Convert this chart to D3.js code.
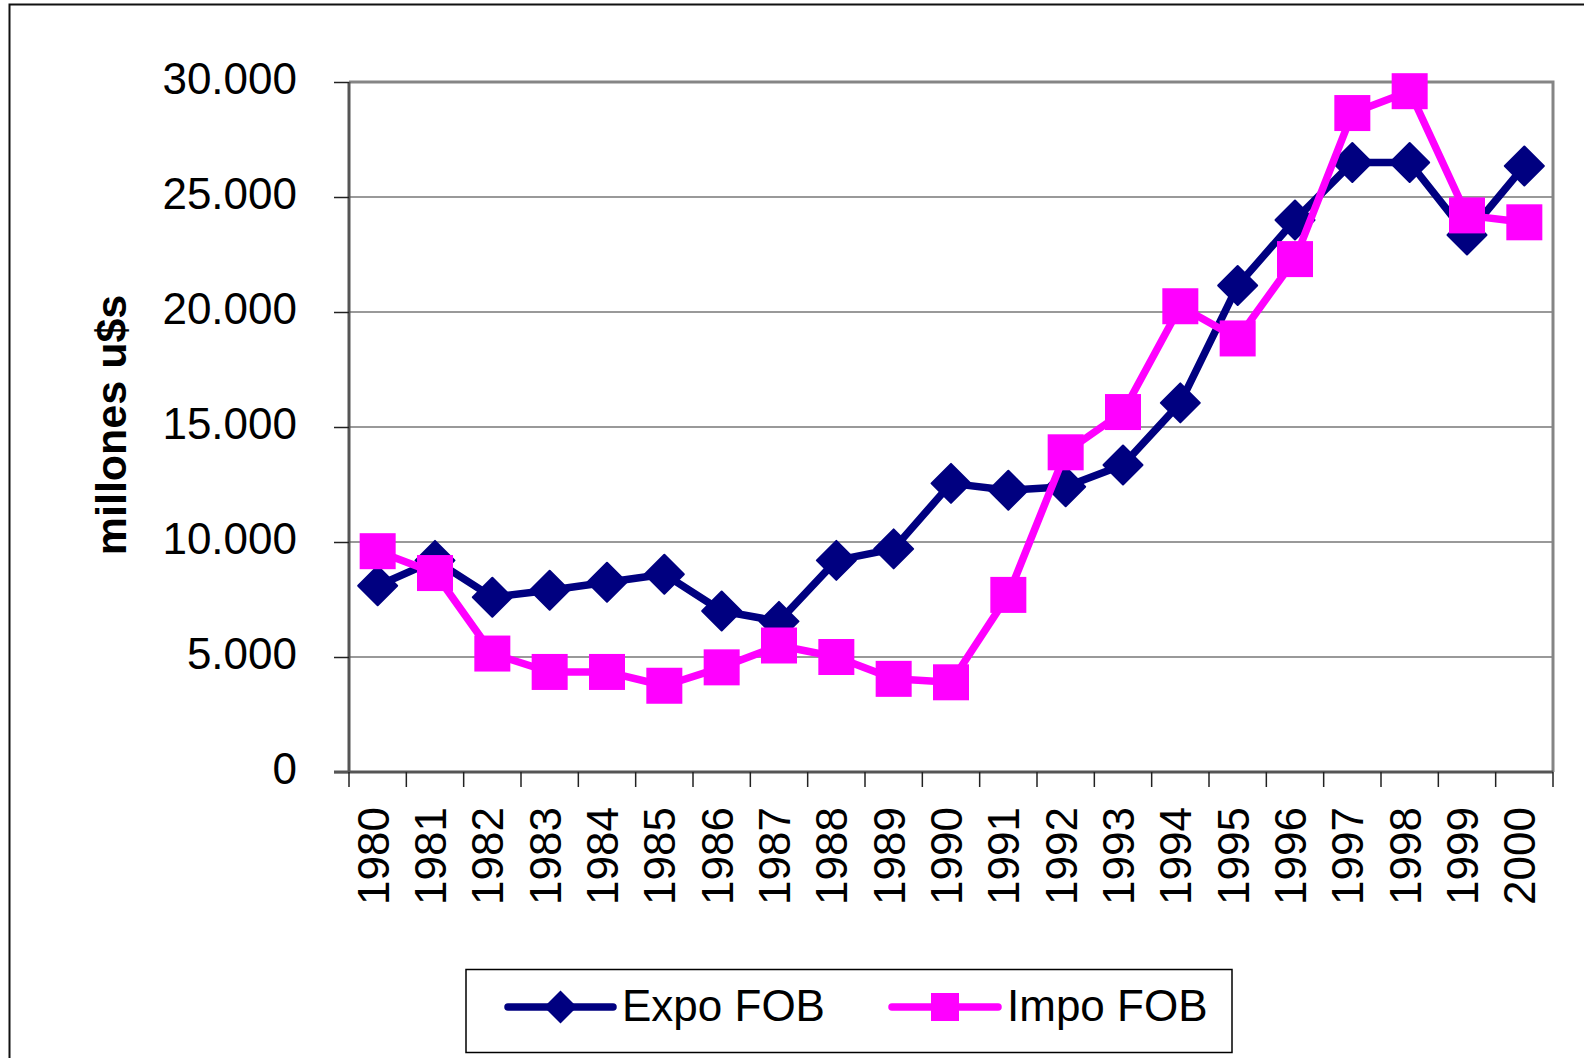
<!DOCTYPE html>
<html>
<head>
<meta charset="utf-8">
<script src="https://cdn.jsdelivr.net/npm/d3@7"></script>
<style>
	html, body { margin: 0; padding: 0; background: #fff; overflow: hidden; }
	svg { display: block; font-family: "Liberation Sans", Arial, sans-serif; }
</style>
</head>
<body>
<div id="wrapper"></div>
<script>
// years on the category axis
const years = ['1980', '1981', '1982', '1983', '1984', '1985', '1986', '1987', '1988', '1989', '1990',
	'1991', '1992', '1993', '1994', '1995', '1996', '1997', '1998', '1999', '2000'];
// millones u$s
const expoFob = [8100, 9200, 7600, 7900, 8250, 8600, 7000, 6550, 9200, 9700, 12550,
	12250, 12400, 13350, 16050, 21150, 24000, 26500, 26500, 23350, 26350];
const impoFob = [9600, 8650, 5150, 4350, 4350, 3750, 4550, 5500, 5000, 4050, 3900,
	7700, 13900, 15650, 20250, 18850, 22300, 28650, 29600, 24200, 23900];
const yTicks = [0, 5000, 10000, 15000, 20000, 25000, 30000];
const seriesNames = ['Expo FOB', 'Impo FOB'];

(() => {
	const width = 1584, height = 1058;
	const plot = { left: 349, right: 1553, top: 82, bottom: 772 };
	const colors = { expo: '#000080', impo: '#ff00ff' };
	const fontSize = 44;

	const fmt = d3.formatLocale({ decimal: ',', thousands: '.', grouping: [3], currency: ['$', ''] }).format(',d');

	const svg = d3.select('#wrapper').append('svg')
		.attr('width', width)
		.attr('height', height);

	// outer chart frame (runs off the page right and bottom)
	svg.append('rect')
		.attr('x', 9.5).attr('y', 4.5)
		.attr('width', 1650).attr('height', 1150)
		.attr('fill', '#fff')
		.attr('stroke', '#111')
		.attr('stroke-width', 2);

	const x = d3.scaleBand()
		.domain(years)
		.range([plot.left, plot.right])
		.padding(0);
	const y = d3.scaleLinear()
		.domain([0, 30000])
		.range([plot.bottom, plot.top]);
	const cx = (d) => x(d) + x.bandwidth() / 2;

	// gridlines
	svg.append('g').selectAll('line')
		.data(yTicks.filter((t) => t > 0))
		.enter().append('line')
		.attr('x1', plot.left).attr('x2', plot.right)
		.attr('y1', (d) => y(d)).attr('y2', (d) => y(d))
		.attr('stroke', '#777')
		.attr('stroke-width', 1.6);

	// plot frame (top / right)
	svg.append('path')
		.attr('d', `M${plot.left},${plot.top} H${plot.right} V${plot.bottom}`)
		.attr('fill', 'none')
		.attr('stroke', '#858585')
		.attr('stroke-width', 3);

	// y axis
	const yAxis = svg.append('g')
		.attr('transform', `translate(${plot.left},0)`)
		.call(d3.axisLeft(y).tickValues(yTicks).tickSize(15).tickPadding(0).tickFormat(fmt));
	yAxis.select('.domain')
		.attr('d', `M0,${plot.top}V${plot.bottom}`)
		.attr('stroke', '#555')
		.attr('stroke-width', 3);
	yAxis.selectAll('.tick line')
		.attr('stroke', '#222')
		.attr('stroke-width', 1.5);
	yAxis.selectAll('.tick text')
		.attr('x', -52)
		.attr('dy', '0.26em')
		.attr('fill', '#000')
		.style('font-size', fontSize + 'px')
		.style('font-family', '"Liberation Sans", Arial, sans-serif');

	// x axis
	const xAxis = svg.append('g');
	xAxis.append('line')
		.attr('x1', plot.left - 15).attr('x2', plot.right)
		.attr('y1', plot.bottom).attr('y2', plot.bottom)
		.attr('stroke', '#555')
		.attr('stroke-width', 3);
	xAxis.selectAll('.xtick')
		.data(years.map((d) => x(d)).concat([plot.right]))
		.enter().append('line')
		.attr('class', 'xtick')
		.attr('x1', (d) => d).attr('x2', (d) => d)
		.attr('y1', plot.bottom).attr('y2', plot.bottom + 15)
		.attr('stroke', '#222')
		.attr('stroke-width', 1.5);
	xAxis.selectAll('text')
		.data(years)
		.enter().append('text')
		.attr('transform', (d) => `translate(${cx(d) + 11},${plot.bottom + 35}) rotate(-90)`)
		.attr('text-anchor', 'end')
		.style('font-size', fontSize + 'px')
		.text((d) => d);

	// y axis title
	svg.append('text')
		.attr('transform', 'translate(126,425) rotate(-90)')
		.attr('text-anchor', 'middle')
		.style('font-size', '43px')
		.style('font-weight', 'bold')
		.text('millones u$s');

	// series
	const line = d3.line()
		.x((d, i) => cx(years[i]))
		.y((d) => y(d));

	const diamond = (s) => `M0,${-s} L${s},0 L0,${s} L${-s},0 Z`;

	const drawSeries = (values, color, marker) => {
		const g = svg.append('g');
		g.append('path')
			.datum(values)
			.attr('d', line)
			.attr('fill', 'none')
			.attr('stroke', color)
			.attr('stroke-width', 7.5)
			.attr('stroke-linejoin', 'round');
		const pts = g.selectAll('.pt')
			.data(values)
			.enter().append('g')
			.attr('transform', (d, i) => `translate(${cx(years[i])},${y(d)})`);
		if (marker === 'diamond') {
			pts.append('path')
				.attr('d', diamond(19.5))
				.attr('fill', color)
				.attr('stroke', color)
				.attr('stroke-width', 2)
				.attr('stroke-linejoin', 'round');
		} else {
			pts.append('rect')
				.attr('x', -18).attr('y', -18)
				.attr('width', 36).attr('height', 36)
				.attr('fill', color);
		}
	};

	drawSeries(expoFob, colors.expo, 'diamond');
	drawSeries(impoFob, colors.impo, 'square');

	// legend
	const legend = svg.append('g');
	legend.append('rect')
		.attr('x', 466).attr('y', 969.5)
		.attr('width', 766).attr('height', 83)
		.attr('fill', '#fff')
		.attr('stroke', '#000')
		.attr('stroke-width', 1.5);

	const legendItems = [
		{ name: seriesNames[0], color: colors.expo, marker: 'diamond', x1: 508, x2: 613, tx: 622 },
		{ name: seriesNames[1], color: colors.impo, marker: 'square', x1: 892, x2: 998, tx: 1007 }
	];
	const ly = 1007;
	const li = legend.selectAll('.item')
		.data(legendItems)
		.enter().append('g');
	li.append('line')
		.attr('x1', (d) => d.x1).attr('x2', (d) => d.x2)
		.attr('y1', ly).attr('y2', ly)
		.attr('stroke', (d) => d.color)
		.attr('stroke-width', 7.5)
		.attr('stroke-linecap', 'round');
	li.each(function(d) {
		const g = d3.select(this);
		const mx = (d.x1 + d.x2) / 2;
		if (d.marker === 'diamond') {
			g.append('path')
				.attr('transform', `translate(${mx},${ly})`)
				.attr('d', diamond(16.5))
				.attr('fill', d.color);
		} else {
			g.append('rect')
				.attr('x', mx - 14).attr('y', ly - 14)
				.attr('width', 28).attr('height', 28)
				.attr('fill', d.color);
		}
	});
	li.append('text')
		.attr('x', (d) => d.tx)
		.attr('y', ly + 14)
		.style('font-size', fontSize + 'px')
		.text((d) => d.name);
})();
</script>
</body>
</html>
